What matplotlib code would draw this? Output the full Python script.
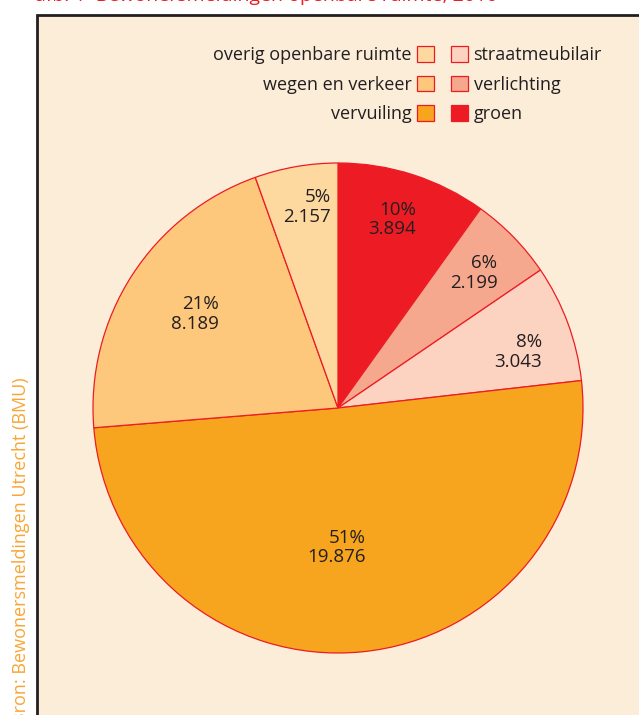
import numpy as np
import matplotlib
matplotlib.use('Agg')
import matplotlib.pyplot as plt
from matplotlib.patches import Rectangle

plt.rcParams['font.family'] = ['Open Sans', 'DejaVu Sans']

# Data (clockwise from 12 o'clock)
categories = ['groen', 'verlichting', 'straatmeubilair', 'vervuiling',
              'wegen en verkeer', 'overig openbare ruimte']
counts = [3894, 2199, 3043, 19876, 8189, 2157]
pct_labels = ['10%', '6%', '8%', '51%', '21%', '5%']
count_labels = ['3.894', '2.199', '3.043', '19.876', '8.189', '2.157']

colors = ['#ED1C24', '#F6A88E', '#FCD3C1', '#F7A51E', '#FDC77C', '#FDD9A0']
# label placement: fraction of radius and angular nudge (deg)
label_radius = [0.80, 0.78, 0.77, 0.57, 0.70, 0.83]
label_nudge = [1.8, 0.5, -3.0, -6.3, -0.5, -1.0]
text_color = '#231F20'
bg = '#FCEDD9'

fig = plt.figure(figsize=(6.39, 7.15), dpi=100)
fig.patch.set_facecolor('white')

# beige panel with dark left/top border
panel = Rectangle((37 / 639, -0.1), 1.2, (700 / 715) + 0.1,
                  transform=fig.transFigure, facecolor=bg,
                  edgecolor=text_color, linewidth=2, zorder=0)
fig.patches.append(panel)

# cut-off title and source
fig.text(35 / 639, 714.3 / 715, 'afb. 1  Bewonersmeldingen openbare ruimte, 2010',
         color='#ED1C24', fontsize=14, ha='left', va='baseline')
fig.text(21 / 639, (715 - 377) / 715, 'Bron: Bewonersmeldingen Utrecht (BMU)',
         color='#F8A634', fontsize=13.0, rotation=90, rotation_mode='anchor',
         ha='right', va='center')

ax = fig.add_axes([93 / 639, 62 / 715, 490 / 639, 490 / 715], zorder=2)
ax.set_facecolor('none')
wedges, _ = ax.pie(counts, colors=colors, startangle=90, counterclock=False,
                   radius=1.0,
                   wedgeprops=dict(edgecolor='#ED1C24', linewidth=0.9))
ax.set_xlim(-1, 1)
ax.set_ylim(-1, 1)
ax.set_aspect('equal')
ax.axis('off')

for w, r, d, p, c in zip(wedges, label_radius, label_nudge, pct_labels, count_labels):
    mid = np.deg2rad((w.theta1 + w.theta2) / 2 + d)
    ax.text(r * np.cos(mid), r * np.sin(mid), f'{p}\n{c}', ha='center',
            va='center', multialignment='right', fontsize=13.5,
            color=text_color, linespacing=1.12)

# legend: left column labels before the swatch, right column after
left_idx = [5, 4, 3]
right_idx = [2, 1, 0]
leg_kw = dict(frameon=False, fontsize=13, handlelength=0.95, handleheight=0.95,
              labelspacing=0.65, borderpad=0, borderaxespad=0, handletextpad=0.3,
              bbox_transform=fig.transFigure, labelcolor=text_color)
leg1 = fig.legend([wedges[i] for i in left_idx], [categories[i] for i in left_idx],
                  loc='upper right', bbox_to_anchor=(434 / 639, (715 - 46) / 715),
                  markerfirst=False, **leg_kw)
leg2 = fig.legend([wedges[i] for i in right_idx], [categories[i] for i in right_idx],
                  loc='upper left', bbox_to_anchor=(451 / 639, (715 - 46) / 715),
                  **leg_kw)
for leg in (leg1, leg2):
    leg.set_zorder(3)

fig.savefig('out.png', dpi=100, facecolor=fig.get_facecolor())
